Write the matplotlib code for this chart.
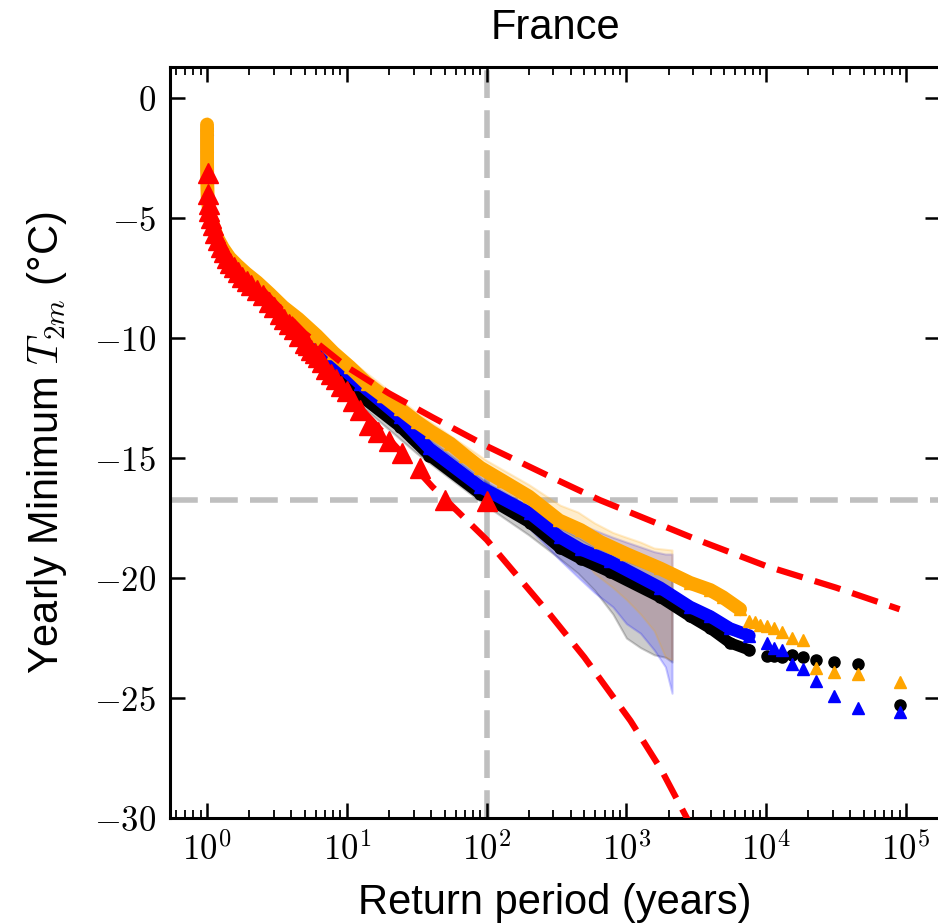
import numpy as np
import matplotlib
matplotlib.use("Agg")
import matplotlib.pyplot as plt
from matplotlib.ticker import FuncFormatter, LogLocator, NullFormatter

plt.rcParams['font.family'] = ['Liberation Sans', 'DejaVu Sans']
plt.rcParams['mathtext.fontset'] = 'cm'

#------------------------------
# model ensembles: dense part (return period, value)
orange_T = [1.00002, 1.0002, 1.001, 1.004, 1.01, 1.03, 1.06, 1.1, 1.18, 1.3, 1.45, 1.64,
            1.9, 2.28, 2.8, 3.5, 4.5, 6.1, 8.0, 10.5, 14, 18.2, 24, 31.8, 40, 55, 70, 90,
            130, 200, 330, 470, 650, 1000, 1740, 2850, 3980, 4900, 6500]
orange_v = [-1.1, -2.0, -2.8, -3.5, -4.1, -4.6, -4.95, -5.25, -5.8, -6.25, -6.65, -6.96,
            -7.3, -7.67, -8.15, -8.7, -9.2, -9.9, -10.6, -11.2, -11.9, -12.4, -12.95, -13.5,
            -13.9, -14.4, -14.9, -15.4, -15.95, -16.6, -17.6, -18.0, -18.5, -19.0, -19.6,
            -20.2, -20.5, -20.8, -21.3]
orange_tail_T = [7580, 8270, 9100, 10100, 11375, 13000, 15170, 18200, 22750, 30300, 45500, 91000]
orange_tail_v = [-21.8, -21.85, -21.95, -22.0, -22.1, -22.25, -22.5, -22.6, -23.75, -23.9, -24.0, -24.35]

blue_T = [1.00002, 1.001, 1.01, 1.1, 1.3, 1.64, 2.28, 3.5, 6.1, 12.4, 24, 39, 90, 204,
          335, 470, 760, 1740, 2850, 3980, 5500, 7580]
blue_v = [-1.3, -3.0, -4.3, -5.4, -6.4, -7.1, -7.9, -8.9, -10.3, -11.9, -13.3, -14.6,
          -16.2, -17.3, -18.3, -18.8, -19.3, -20.4, -21.2, -21.6, -22.1, -22.4]
blue_tail_T = [10100, 11375, 13000, 15170, 18200, 22750, 30300, 45500, 91000]
blue_tail_v = [-22.7, -22.9, -23.0, -23.6, -23.8, -24.3, -24.9, -25.4, -25.6]

black_T = [1.00002, 1.001, 1.01, 1.1, 1.3, 1.64, 2.28, 3.5, 6.1, 12.4, 24, 39, 90, 204,
           335, 470, 760, 1740, 2850, 3980, 5500, 7580]
black_v = [-1.3, -3.0, -4.3, -5.4, -6.4, -7.1, -7.9, -9.0, -10.6, -12.4, -13.7, -14.9,
           -16.5, -17.7, -18.75, -19.2, -19.75, -20.8, -21.6, -22.1, -22.7, -23.0]
black_tail_T = [10100, 11375, 13000, 15170, 18200, 22750, 30300, 45500, 91000]
black_tail_v = [-23.25, -23.25, -23.3, -23.2, -23.3, -23.4, -23.5, -23.6, -25.3]

#------------------------------
# bootstrap bands
band_T = [1.00002, 1.001, 1.01, 1.1, 1.3, 1.64, 2.28, 3.5, 6.1, 10, 31.6, 100, 200, 335,
          450, 590, 800, 1000, 1260, 1580, 1900, 2120]
orange_lo = [-1.4, -3.1, -4.4, -5.5, -6.5, -7.2, -7.9, -9.0, -10.2, -11.4, -13.8, -15.9,
             -17.0, -18.2, -18.9, -19.8, -20.4, -20.9, -21.5, -22.2, -23.3, -23.4]
orange_hi = [-0.8, -2.5, -3.8, -5.0, -6.0, -6.7, -7.4, -8.4, -9.6, -10.8, -13.1, -15.1,
             -16.1, -16.96, -17.25, -17.7, -18.1, -18.3, -18.5, -18.75, -18.8, -18.83]
blue_lo = [-1.6, -3.3, -4.6, -5.7, -6.7, -7.4, -8.2, -9.2, -10.7, -12.0, -14.4, -16.7,
           -17.9, -19.25, -19.96, -20.6, -21.2, -21.9, -22.3, -23.0, -23.7, -24.8]
blue_hi = [-1.0, -2.7, -4.0, -5.1, -6.1, -6.8, -7.6, -8.6, -10.0, -11.3, -13.5, -15.7,
           -16.7, -17.4, -17.7, -18.0, -18.3, -18.5, -18.7, -18.9, -19.0, -19.0]
black_lo = [-1.6, -3.3, -4.6, -5.7, -6.7, -7.4, -8.2, -9.3, -10.9, -12.3, -14.8, -17.0,
            -18.2, -19.2, -19.8, -20.5, -21.5, -22.5, -22.9, -23.2, -23.3, -23.5]
black_hi = [-1.0, -2.7, -4.0, -5.1, -6.1, -6.8, -7.6, -8.7, -10.3, -11.6, -13.8, -16.0,
            -17.0, -17.9, -18.3, -18.7, -19.0, -19.3, -19.5, -19.7, -19.8, -19.8]

#------------------------------
# observations (red triangles)
obs_T = [100, 50, 33.3, 25, 20, 16.7, 14.3, 12.5, 11.1, 10, 9.09, 8.33, 7.69, 7.14, 6.67,
         6.25, 5.88, 5.56, 5.26, 5.0, 4.55, 4.17, 3.85, 3.57, 3.33, 3.03, 2.78, 2.5, 2.27,
         2.08, 1.92, 1.79, 1.67, 1.56, 1.47, 1.39, 1.32, 1.25, 1.19, 1.14, 1.1, 1.06, 1.04,
         1.03, 1.02, 1.01]
obs_v = [-16.8, -16.75, -15.4, -14.8, -14.3, -13.9, -13.6, -13.0, -12.6, -12.2, -12.0, -11.7,
         -11.5, -11.3, -11.0, -10.8, -10.6, -10.5, -10.3, -10.2, -9.9, -9.6, -9.4, -9.2, -9.0,
         -8.7, -8.5, -8.2, -8.0, -7.8, -7.6, -7.45, -7.25, -7.05, -6.85, -6.65, -6.4, -6.2, -5.9,
         -5.6, -5.3, -5.0, -4.7, -4.4, -4.0, -3.1]

# GEV fit bounds (red dashed)
gev_T = [2.5, 5.0, 10, 20, 41, 100, 316, 646, 1000, 3200, 10000, 31600, 90000]
gev_hi = [-8.0, -9.8, -11.2, -12.3, -13.3, -14.5, -15.9, -16.75, -17.2, -18.4, -19.5, -20.4, -21.3]
gev_lo_T = [2.5, 5.0, 10, 20, 41, 100, 282, 500, 1070, 1780, 2820]
gev_lo = [-8.0, -10.2, -12.3, -14.2, -16.2, -18.4, -21.5, -23.3, -25.95, -28.0, -30.2]

ref_T = 100
ref_v = -16.75

#------------------------------
fig = plt.figure(figsize=(9.38, 9.24), dpi=100)
ax = fig.add_axes([170/938, 1-818/924, 770/938, 751/924])

ax.axvline(ref_T, color='grey', alpha=0.5, lw=4, dashes=(5, 2.2), zorder=1)
ax.axhline(ref_v, color='grey', alpha=0.5, lw=4, dashes=(5, 2.2), zorder=1)

ax.fill_between(band_T, black_lo, black_hi, color='black', alpha=0.2, lw=1.5, zorder=2)
ax.fill_between(band_T, blue_lo, blue_hi, color='blue', alpha=0.2, lw=1.5, zorder=2)
ax.fill_between(band_T, orange_lo, orange_hi, color='orange', alpha=0.2, lw=1.5, zorder=2)

ax.plot(black_T, black_v, color='black', lw=8, marker='o', ms=8, solid_capstyle='round', zorder=3)
ax.plot(black_tail_T, black_tail_v, 'o', color='black', ms=8, zorder=3)
ax.plot(blue_T, blue_v, color='blue', lw=9, marker='^', ms=8, solid_capstyle='round', zorder=3.1)
ax.plot(blue_tail_T, blue_tail_v, '^', color='blue', ms=8, zorder=3.1)
ax.plot(orange_T, orange_v, color='orange', lw=10, marker='^', ms=8, solid_capstyle='round', zorder=3.2)
ax.plot(orange_tail_T, orange_tail_v, '^', color='orange', ms=8, zorder=3.2)

ax.plot(gev_T, gev_hi, color='red', lw=4.5, dashes=(4.3, 2.0), zorder=4)
ax.plot(gev_lo_T, gev_lo, color='red', lw=4.5, dashes=(4.3, 2.0), zorder=4)
ax.plot(obs_T, obs_v, '^', color='red', ms=14, zorder=5)

ax.set_xscale('log')
ax.set_xlim(0.5435, 1.75e5)
ax.set_ylim(-30, 1.3)
ax.set_yticks([0, -5, -10, -15, -20, -25, -30])
ax.xaxis.set_major_locator(LogLocator(base=10, numticks=10))
ax.xaxis.set_minor_locator(LogLocator(base=10, subs=np.arange(2, 10), numticks=20))
ax.xaxis.set_minor_formatter(NullFormatter())
ax.xaxis.set_major_formatter(FuncFormatter(lambda v, p: r'$10^{%d}$' % round(np.log10(v))))
ax.yaxis.set_major_formatter(FuncFormatter(lambda v, p: r'$%d$' % v))

ax.tick_params(which='both', direction='in', top=True, right=True, labelsize=25)
ax.tick_params(which='major', length=11, width=1.8, pad=10)
ax.tick_params(which='minor', length=5.5, width=1.3)
for s in ax.spines.values():
    s.set_linewidth(2.2)

ax.set_title('France', fontsize=30, pad=20)
ax.set_xlabel('Return period (years)', fontsize=30, labelpad=12)
ax.set_ylabel(r'Yearly Minimum $T_{2m}$ (°C)', fontsize=30, labelpad=18)

fig.savefig('out.png', dpi=100)
